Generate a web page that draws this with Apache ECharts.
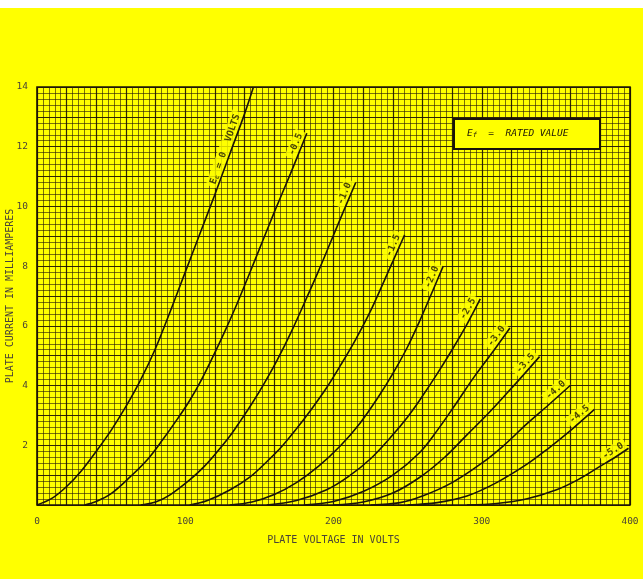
<!DOCTYPE html>
<html><head><meta charset="utf-8">
<script src="https://cdn.jsdelivr.net/npm/echarts@6/dist/echarts.min.js"></script>
<style>html,body{margin:0;padding:0;background:#fff}#c{width:643px;height:579px}</style>
</head><body><div id="c"></div>
<script>
// Grid-bias labels for each plate characteristic curve
const gridBias = ['0', '-0.5', '-1.0', '-1.5', '-2.0', '-2.5', '-3.0', '-3.5', '-4.0', '-4.5', '-5.0'];
// [plate volts, plate mA]
const ec_0   = [[0,0],[10,0.22],[20,0.62],[30,1.15],[40,1.8],[50,2.5],[60,3.3],[70,4.2],[80,5.25],[90,6.5],[100,7.8],[110,9.1],[120,10.4],[130,11.75],[140,13.1],[146,14]];
const ec_0_5 = [[32,0],[40,0.12],[50,0.38],[63,0.95],[75,1.55],[85,2.2],[95,2.9],[103,3.5],[111,4.2],[119,5.0],[127,5.85],[135,6.75],[147,8.2],[160,9.8],[171,11.1],[182,12.45]];
const ec_1_0 = [[70,0],[80,0.1],[90,0.35],[103,0.84],[112,1.25],[121,1.75],[130,2.3],[137,2.8],[145,3.4],[153,4.05],[162,4.85],[172,5.85],[182,6.95],[190,7.85],[198,8.8],[206,9.75],[215,10.8]];
const ec_1_5 = [[103,0],[115,0.15],[130,0.5],[144,0.95],[155,1.45],[165,1.95],[175,2.55],[185,3.2],[195,3.9],[205,4.7],[215,5.55],[225,6.5],[235,7.6],[248,9.05]];
const ec_2_0 = [[130,0],[145,0.1],[160,0.35],[175,0.75],[190,1.3],[205,2.0],[218,2.75],[230,3.6],[240,4.4],[250,5.3],[258,6.15],[265,6.95],[274,8.0]];
const ec_2_5 = [[155,0],[175,0.15],[195,0.5],[210,0.95],[225,1.55],[240,2.35],[250,2.95],[258,3.5],[270,4.4],[280,5.2],[290,6.05],[299,6.9]];
const ec_3_0 = [[180,0],[200,0.12],[220,0.45],[240,1.0],[258,1.75],[270,2.5],[282,3.35],[295,4.3],[307,5.1],[319,5.93]];
const ec_3_5 = [[200,0],[220,0.1],[240,0.4],[258,0.92],[275,1.6],[290,2.35],[305,3.1],[318,3.8],[328,4.35],[339,4.97]];
const ec_4_0 = [[225,0],[245,0.08],[260,0.3],[280,0.75],[300,1.4],[315,2.0],[330,2.7],[345,3.35],[360,4.02]];
const ec_4_5 = [[250,0],[270,0.08],[290,0.3],[310,0.75],[330,1.35],[345,1.9],[360,2.5],[376,3.2]];
const ec_5_0 = [[290,0],[310,0.05],[330,0.2],[350,0.5],[365,0.85],[380,1.3],[390,1.6],[399,1.9]];
const curves = [ec_0, ec_0_5, ec_1_0, ec_1_5, ec_2_0, ec_2_5, ec_3_0, ec_3_5, ec_4_0, ec_4_5, ec_5_0];
const voltTickLabels = [0, 100, 200, 300, 400];
const currentTickLabels = [2, 4, 6, 8, 10, 12, 14];
const xTitle = 'PLATE VOLTAGE IN VOLTS';
const yTitle = 'PLATE CURRENT IN MILLIAMPERES';
const noteText = '{e|E}{s|f}{t|  =  RATED VALUE}';

const YELLOW = '#ffff00';
const INK = '#1a1408';
const FONT = 'DejaVu Sans Mono';
const chart = echarts.init(document.getElementById('c'));

function labelText(k) {
  return k === 0 ? '{e|E}{s|c}{t| = 0  VOLTS}' : '{t|' + gridBias[k] + '}';
}
function labelSeries(angles) {
  return {
    type: 'scatter', symbolSize: 1, z: 3, silent: true,
    itemStyle: {color: 'rgba(0,0,0,0)'},
    data: curves.map((c, k) => ({
      value: k === 0 ? c[c.length - 2] : c[c.length - 1],
      label: {
        show: true, position: 'inside', align: 'right', verticalAlign: 'bottom',
        rotate: angles[k], formatter: labelText(k),
        backgroundColor: YELLOW, padding: [1, 3, 1, 3],
        rich: {
          e: {fontFamily: FONT, fontSize: 9.5, fontWeight: 'bold', color: INK},
          s: {fontFamily: FONT, fontSize: 6.5, fontWeight: 'bold', color: INK, padding: [4, 1, 0, 0]},
          t: {fontFamily: FONT, fontSize: 9.5, fontWeight: 'bold', color: INK}
        }
      }
    }))
  };
}

const lineSeries = curves.map(d => ({
  type: 'line', data: d, smooth: 0.35, symbol: 'none', z: 4, silent: true,
  lineStyle: {color: INK, width: 1.6}
}));

const option = {
  animation: false,
  backgroundColor: YELLOW,
  grid: {left: 37, top: 87, right: 13, bottom: 74, containLabel: false, outerBoundsMode: 'none',
    show: true, borderColor: INK, borderWidth: 1.6},
  xAxis: {
    type: 'value', min: 0, max: 400, interval: 20,
    axisLine: {show: false}, axisTick: {show: false},
    axisLabel: {margin: 12, color: '#4a4436', fontFamily: FONT, fontSize: 9.5,
      formatter: v => voltTickLabels.includes(v) ? String(v) : ''},
    splitLine: {show: true, lineStyle: {color: 'rgba(25,15,5,0.9)', width: 1.2}},
    minorTick: {show: false, splitNumber: 5},
    minorSplitLine: {show: true, lineStyle: {color: 'rgba(40,28,10,0.62)', width: 1}},
    name: xTitle, nameLocation: 'middle', nameGap: 30, nameMoveOverlap: false,
    nameTextStyle: {color: '#4a4436', fontFamily: FONT, fontSize: 10}
  },
  yAxis: {
    type: 'value', min: 0, max: 14, interval: 1,
    axisLine: {show: false}, axisTick: {show: false},
    axisLabel: {margin: 9, color: '#4a4436', fontFamily: FONT, fontSize: 9.5,
      formatter: v => currentTickLabels.includes(v) ? String(v) : ''},
    splitLine: {show: true, lineStyle: {color: 'rgba(25,15,5,0.9)', width: 1.2}},
    minorTick: {show: false, splitNumber: 5},
    minorSplitLine: {show: true, lineStyle: {color: 'rgba(40,28,10,0.62)', width: 1}},
    name: yTitle, nameLocation: 'middle', nameGap: 22, nameRotate: 90, nameMoveOverlap: false,
    nameTextStyle: {color: '#4a4436', fontFamily: FONT, fontSize: 10}
  },
  graphic: [
    {type: 'rect', shape: {x: 0, y: 0, width: 643, height: 8}, style: {fill: '#fff'}, z: 100},
    {type: 'rect', shape: {x: 454, y: 119, width: 146, height: 30}, style: {fill: YELLOW, stroke: INK, lineWidth: 2}, z: 100},
    {type: 'text', x: 467, y: 128, z: 101, style: {text: noteText, rich: {
      e: {fontFamily: FONT, fontSize: 9.5, fontStyle: 'italic', fill: INK},
      s: {fontFamily: FONT, fontSize: 7, fontStyle: 'italic', fill: INK, padding: [4, 0, 0, 0]},
      t: {fontFamily: FONT, fontSize: 9.5, fontStyle: 'italic', fill: INK}
    }}}
  ],
  series: lineSeries.concat([labelSeries(curves.map(() => 0))])
};
chart.setOption(option);

// rotate each curve label to follow its own curve near the end
const angles = curves.map(c => {
  const a = chart.convertToPixel({gridIndex: 0}, c[c.length - 3]);
  const b = chart.convertToPixel({gridIndex: 0}, c[c.length - 1]);
  return Math.atan2(a[1] - b[1], b[0] - a[0]) * 180 / Math.PI;
});
chart.setOption({series: lineSeries.concat([labelSeries(angles)])});
</script></body></html>
